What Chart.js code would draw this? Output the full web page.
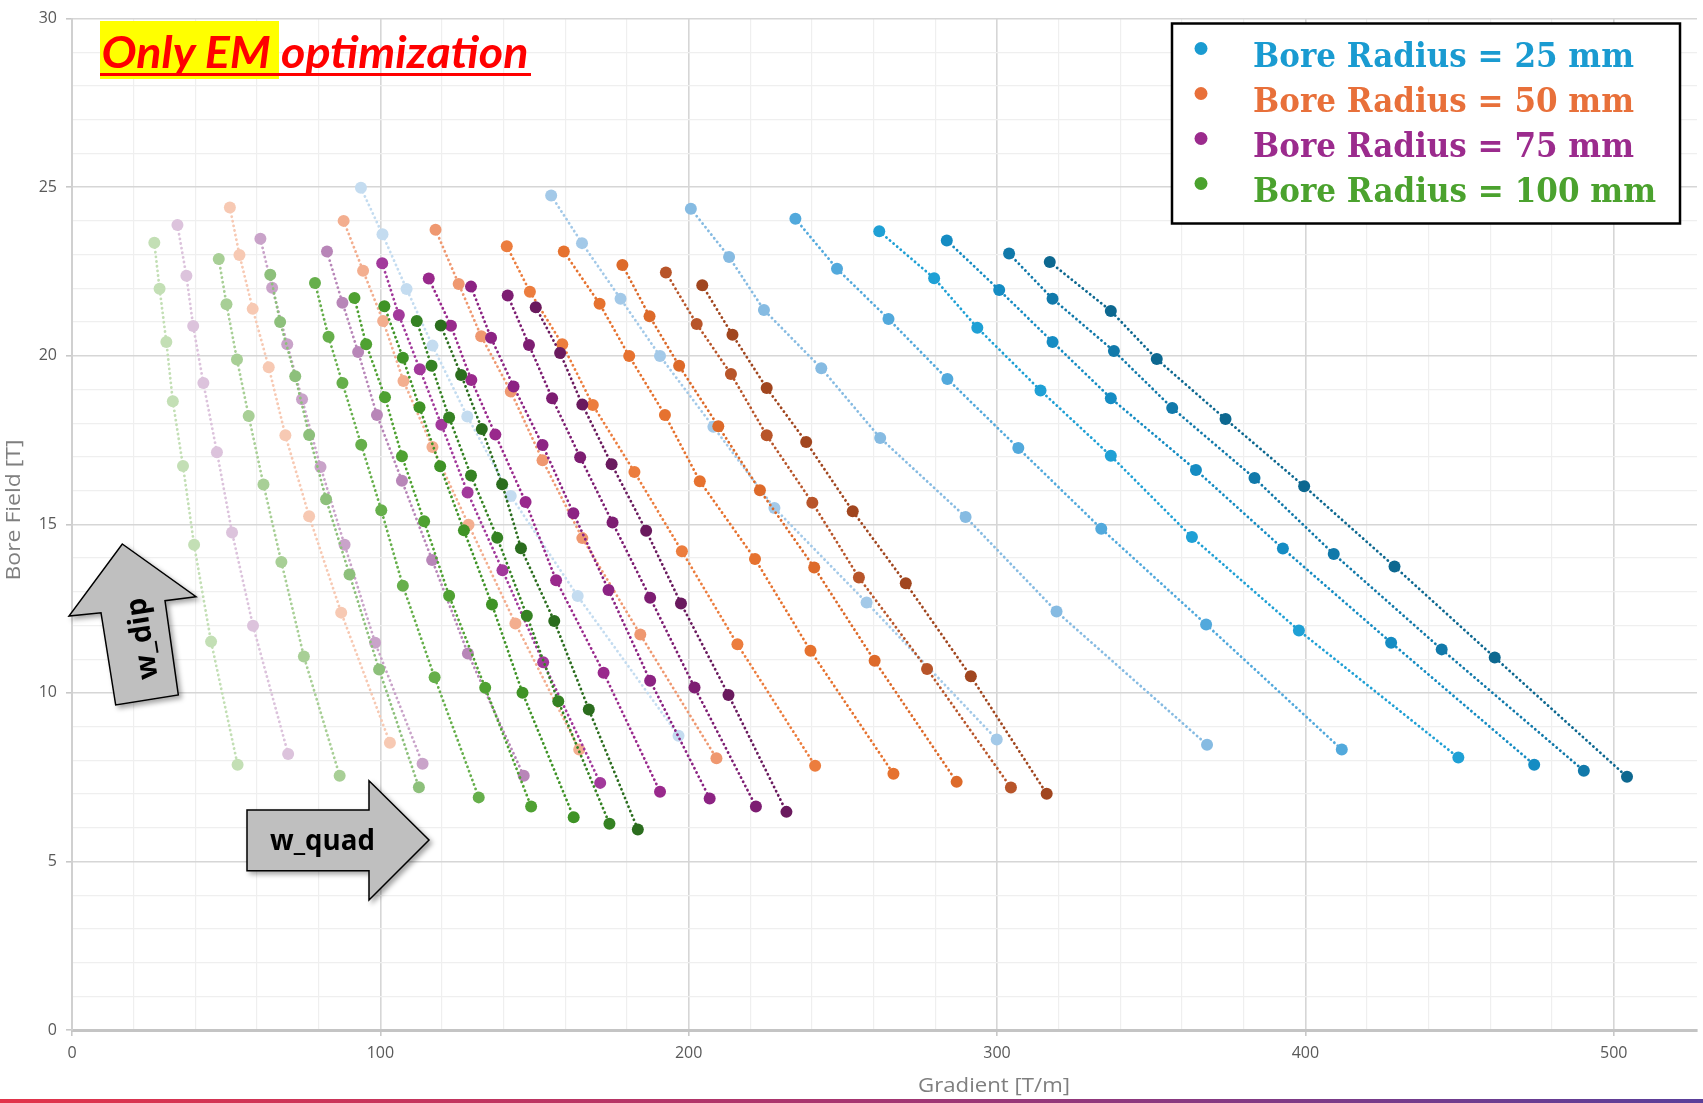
<!DOCTYPE html>
<html>
<head>
<meta charset="utf-8">
<script src="https://cdn.jsdelivr.net/npm/chart.js@4.4.0/dist/chart.umd.min.js"></script>
<style>
  html, body { margin: 0; padding: 0; background: #fff; }
  #wrap { position: relative; width: 1703px; height: 1103px; overflow: hidden; }
  #chart { position: absolute; left: 0; top: 0; }
  #overlay { position: absolute; left: 0; top: 0; pointer-events: none; }
</style>
</head>
<body>
<div id="wrap">
<canvas id="chart" width="1703" height="1103"></canvas>
<svg id="overlay" width="1703" height="1103" xmlns="http://www.w3.org/2000/svg">
  <defs>
    <filter id="shadow" x="-20%" y="-20%" width="150%" height="150%">
      <feDropShadow dx="3" dy="3" stdDeviation="2.5" flood-color="#000" flood-opacity="0.35"/>
    </filter>
    <linearGradient id="edge" x1="0" x2="1" y1="0" y2="0">
      <stop offset="0" stop-color="#e2344a"/>
      <stop offset="0.5" stop-color="#a63570"/>
      <stop offset="1" stop-color="#5a3f9a"/>
    </linearGradient>
  </defs>

  <!-- title -->
  <rect x="100" y="21" width="179" height="58" fill="#ffff00"/>
  <text x="101.5" y="67.5" font-family="Lato" font-weight="bold" font-style="italic" font-size="43"
        fill="#ff0000" textLength="427" lengthAdjust="spacingAndGlyphs">Only EM optimization</text>
  <line x1="100" y1="74.5" x2="531" y2="74.5" stroke="#ff0000" stroke-width="3"/>

  <!-- legend -->
  <g id="legend"></g>

  <!-- arrows -->
  <polygon points="122.3,544 196,596.7 165,600.7 178.3,695 115.7,705 101,612.7 69,616"
           fill="#bfbfbf" stroke="#000" stroke-width="1.5" filter="url(#shadow)"/>
  <text transform="translate(140,639) rotate(-99)" text-anchor="middle" dominant-baseline="central"
        font-family="Open Sans" font-weight="bold" font-size="29" fill="#000"
        textLength="82" lengthAdjust="spacingAndGlyphs">w_dip</text>
  <polygon points="247,810 369,810 369,780.7 429,840 369,900 369,870.7 247,870.7"
           fill="#bfbfbf" stroke="#000" stroke-width="1.5" filter="url(#shadow)"/>
  <text x="270" y="850" font-family="Open Sans" font-weight="bold" font-size="29" fill="#000"
        textLength="105" lengthAdjust="spacingAndGlyphs">w_quad</text>

  <!-- axis titles -->
  <text x="994" y="1092" text-anchor="middle" font-family="Open Sans" font-size="20" fill="#7f7f7f"
        textLength="152" lengthAdjust="spacingAndGlyphs">Gradient [T/m]</text>
  <text transform="translate(20,510) rotate(-90)" text-anchor="middle" font-family="Open Sans" font-size="20"
        fill="#7f7f7f" textLength="141" lengthAdjust="spacingAndGlyphs">Bore Field [T]</text>

  <rect x="0" y="1099" width="1703" height="4" fill="url(#edge)"/>
</svg>
</div>
<script>
// rows = operating points with similar bore field, columns = individual curves (light -> dark)

// Bore radius 25 mm
const blueGradient = [
  [93.7, 155.4, 200.7, 234.6, 261.8, 283.7, 303.9, 317.1],
  [100.7, 165.4, 213.1, 248.1, 279.6, 300.7, 318.0, 336.9],
  [108.5, 177.9, 224.4, 264.8, 293.6, 318.0, 337.9, 351.8],
  [116.9, 190.7, 243.0, 283.9, 314.1, 336.9, 356.8, 374.1],
  [128.2, 208.0, 262.1, 306.9, 336.9, 364.5, 383.5, 399.6],
  [142.3, 227.8, 289.8, 333.8, 363.2, 392.7, 409.2, 428.9],
  [164.0, 257.7, 319.3, 367.8, 397.9, 427.8, 444.2, 461.4],
  [196.7, 299.9, 368.1, 411.8, 449.6, 474.2, 490.3, 504.3]
];
const blueField = [
  [24.98, 24.75, 24.36, 24.06, 23.69, 23.42, 23.03, 22.78],
  [23.60, 23.34, 22.93, 22.58, 22.30, 21.95, 21.69, 21.33],
  [21.98, 21.69, 21.36, 21.09, 20.83, 20.41, 20.14, 19.90],
  [20.30, 19.99, 19.63, 19.31, 18.97, 18.74, 18.45, 18.12],
  [18.20, 17.89, 17.56, 17.26, 17.03, 16.61, 16.37, 16.13],
  [15.84, 15.48, 15.22, 14.87, 14.62, 14.28, 14.12, 13.75],
  [12.87, 12.68, 12.41, 12.03, 11.85, 11.49, 11.29, 11.05],
  [8.73, 8.62, 8.46, 8.32, 8.08, 7.87, 7.69, 7.51]
];

// Bore radius 50 mm
const orangeGradient = [
  [51.2, 88.1, 117.9, 141.0, 159.5, 178.5, 192.6, 204.4],
  [54.3, 94.4, 125.4, 148.5, 171.1, 187.3, 202.6, 214.2],
  [58.6, 100.9, 132.7, 159.0, 180.7, 196.9, 213.7, 225.3],
  [63.8, 107.5, 142.3, 168.9, 192.3, 209.6, 225.3, 238.1],
  [69.2, 116.9, 152.6, 182.4, 203.6, 223.1, 240.1, 253.2],
  [76.9, 128.6, 165.5, 197.8, 221.5, 240.7, 255.2, 270.4],
  [87.3, 143.8, 184.3, 215.8, 239.5, 260.3, 277.3, 291.5],
  [103.1, 164.5, 209.0, 241.0, 266.4, 286.9, 304.5, 316.1]
];
const orangeField = [
  [24.40, 24.00, 23.74, 23.25, 23.09, 22.69, 22.47, 22.09],
  [22.99, 22.52, 22.13, 21.90, 21.54, 21.17, 20.94, 20.62],
  [21.39, 21.03, 20.58, 20.34, 19.99, 19.70, 19.46, 19.04],
  [19.66, 19.25, 18.94, 18.54, 18.24, 17.91, 17.64, 17.44],
  [17.64, 17.29, 16.90, 16.55, 16.28, 16.01, 15.64, 15.39],
  [15.24, 14.99, 14.59, 14.20, 13.97, 13.72, 13.42, 13.25],
  [12.38, 12.06, 11.73, 11.44, 11.25, 10.95, 10.71, 10.49],
  [8.52, 8.32, 8.06, 7.84, 7.60, 7.36, 7.19, 7.01]
];

// Bore radius 75 mm
const purpleGradient = [
  [34.2, 61.1, 82.7, 100.6, 115.7, 129.4, 141.3, 150.4],
  [37.1, 64.9, 87.7, 106.0, 122.9, 135.9, 148.2, 158.3],
  [39.3, 69.8, 92.8, 112.8, 129.5, 143.2, 155.7, 165.5],
  [42.6, 74.6, 98.9, 119.8, 137.3, 152.6, 164.8, 175.0],
  [47.0, 80.6, 107.0, 128.3, 147.1, 162.6, 175.3, 186.2],
  [51.9, 88.4, 116.8, 139.6, 157.0, 174.0, 187.5, 197.5],
  [58.7, 98.3, 128.4, 152.8, 172.4, 187.5, 201.9, 212.9],
  [70.1, 113.7, 146.5, 171.3, 190.7, 206.8, 221.8, 231.7]
];
const purpleField = [
  [23.88, 23.47, 23.09, 22.74, 22.29, 22.05, 21.79, 21.44],
  [22.37, 22.02, 21.57, 21.21, 20.89, 20.53, 20.32, 20.08],
  [20.88, 20.34, 20.11, 19.60, 19.28, 19.09, 18.74, 18.55],
  [19.19, 18.71, 18.24, 17.95, 17.66, 17.35, 16.99, 16.78],
  [17.14, 16.70, 16.29, 15.94, 15.66, 15.33, 15.05, 14.81],
  [14.76, 14.39, 13.94, 13.64, 13.34, 13.05, 12.82, 12.65],
  [11.99, 11.49, 11.17, 10.91, 10.60, 10.36, 10.16, 9.94],
  [8.19, 7.90, 7.54, 7.33, 7.07, 6.87, 6.63, 6.47]
];

// Bore radius 100 mm
const greenGradient = [
  [26.7, 47.6, 64.3, 78.8, 91.6, 101.3, 111.8, 119.6],
  [28.4, 50.1, 67.5, 83.2, 95.4, 107.3, 116.6, 126.2],
  [30.6, 53.5, 72.4, 87.7, 101.5, 112.7, 122.3, 132.9],
  [32.7, 57.3, 76.9, 93.8, 107.0, 119.4, 129.4, 139.5],
  [36.0, 62.1, 82.4, 100.3, 114.2, 127.1, 137.9, 145.6],
  [39.6, 67.9, 90.0, 107.3, 122.3, 136.2, 147.5, 156.4],
  [45.1, 75.2, 99.6, 117.6, 134.0, 146.1, 157.7, 167.6],
  [53.7, 86.8, 112.5, 131.9, 148.9, 162.7, 174.3, 183.5]
];
const greenField = [
  [23.35, 22.87, 22.40, 22.16, 21.71, 21.47, 21.03, 20.90],
  [21.99, 21.53, 21.00, 20.56, 20.34, 19.94, 19.70, 19.43],
  [20.41, 19.89, 19.39, 19.19, 18.77, 18.47, 18.17, 17.83],
  [18.65, 18.21, 17.65, 17.36, 17.02, 16.72, 16.45, 16.19],
  [16.73, 16.18, 15.74, 15.42, 15.09, 14.82, 14.60, 14.29],
  [14.39, 13.88, 13.51, 13.18, 12.88, 12.62, 12.29, 12.13],
  [11.52, 11.08, 10.69, 10.46, 10.15, 10.00, 9.75, 9.51],
  [7.87, 7.54, 7.20, 6.90, 6.63, 6.31, 6.12, 5.95]
];

const blueShades = ['#c4dcf0', '#a3c9e8', '#86bbe2', '#52a9dc', '#1fa0d5', '#158cc3', '#1179aa', '#0d6890'];
const orangeShades = ['#f7c9b3', '#f3ae8f', '#ef9870', '#ec7d3e', '#e6722f', '#dd6a2a', '#b8552a', '#a1461f'];
const purpleShades = ['#dcc3dc', '#c9a3c9', '#b886b8', '#a2399b', '#99298c', '#8c2383', '#7d1d72', '#6a1a5e'];
const greenShades = ['#c3dfb5', '#a8cf96', '#8dc07b', '#66af4b', '#4fa132', '#3f9326', '#358223', '#2b6d1e'];

const legendLabels = ['Bore Radius = 25 mm', 'Bore Radius = 50 mm', 'Bore Radius = 75 mm', 'Bore Radius = 100 mm'];
const legendColors = ['#1a9bd1', '#e8703a', '#9b2b8d', '#4ba22e'];

let order = 1000;
function buildGroup(xRows, yRows, shades, name) {
  return shades.map((c, j) => ({
    label: name + ' #' + (j + 1),
    data: xRows.map((row, k) => ({ x: row[j], y: yRows[k][j] })),
    showLine: true,
    borderColor: c,
    backgroundColor: c,
    borderWidth: 2.8,
    borderDash: [0.1, 4.6],
    borderCapStyle: 'round',
    pointRadius: 6,
    pointBorderWidth: 0,
    pointBackgroundColor: c,
    tension: 0,
    order: order--
  }));
}

const datasets = [
  ...buildGroup(blueGradient, blueField, blueShades, legendLabels[0]),
  ...buildGroup(orangeGradient, orangeField, orangeShades, legendLabels[1]),
  ...buildGroup(purpleGradient, purpleField, purpleShades, legendLabels[2]),
  ...buildGroup(greenGradient, greenField, greenShades, legendLabels[3])
];

const major = (ctx, step) => ctx.tick && Math.abs(ctx.tick.value % step) < 1e-6;

new Chart(document.getElementById('chart'), {
  type: 'scatter',
  data: { datasets },
  options: {
    responsive: false,
    animation: false,
    devicePixelRatio: 1,
    events: [],
    layout: { padding: { top: 15, left: 0, right: 0, bottom: 0 } },
    plugins: { legend: { display: false }, tooltip: { enabled: false } },
    scales: {
      x: {
        type: 'linear',
        min: 0,
        max: 527,
        afterBuildTicks: s => { s.ticks = s.ticks.filter(t => t.value % 20 === 0); },
        afterFit: s => { s.height = 73; },
        grid: {
          color: c => major(c, 100) ? '#d6d6d6' : '#efefef',
          lineWidth: c => major(c, 100) ? 1.6 : 1.2,
          tickLength: 6,
          tickColor: c => major(c, 100) ? '#c8c8c8' : 'rgba(0,0,0,0)'
        },
        border: { color: '#c4c4c4', width: 3 },
        ticks: {
          stepSize: 20,
          autoSkip: false,
          maxRotation: 0,
          padding: 8,
          color: '#595959',
          font: { family: 'Open Sans', size: 16 },
          callback: v => v % 100 === 0 ? v : ''
        }
      },
      y: {
        min: 0,
        max: 30,
        afterFit: s => { s.width = 72; },
        grid: {
          color: c => major(c, 5) ? '#d6d6d6' : '#efefef',
          lineWidth: c => major(c, 5) ? 1.6 : 1.2,
          tickLength: 6,
          tickColor: c => major(c, 5) ? '#c8c8c8' : 'rgba(0,0,0,0)'
        },
        border: { color: '#d0d0d0', width: 2 },
        ticks: {
          stepSize: 1,
          autoSkip: false,
          padding: 9,
          color: '#595959',
          font: { family: 'Open Sans', size: 16 },
          callback: v => v % 5 === 0 ? v : ''
        }
      }
    }
  }
});

// legend box (drawn as svg text over the chart)
const ns = 'http://www.w3.org/2000/svg';
const lg = document.getElementById('legend');
const box = document.createElementNS(ns, 'rect');
box.setAttribute('x', 1172); box.setAttribute('y', 23.5);
box.setAttribute('width', 508); box.setAttribute('height', 200);
box.setAttribute('fill', '#fff'); box.setAttribute('stroke', '#000'); box.setAttribute('stroke-width', 2.5);
lg.appendChild(box);
const legendWidths = [381, 381, 381, 403];
legendLabels.forEach((txt, i) => {
  const dot = document.createElementNS(ns, 'circle');
  dot.setAttribute('cx', 1201); dot.setAttribute('cy', 48.5 + i * 45);
  dot.setAttribute('r', 6.5); dot.setAttribute('fill', legendColors[i]);
  lg.appendChild(dot);
  const t = document.createElementNS(ns, 'text');
  t.setAttribute('x', 1253); t.setAttribute('y', 67.3 + i * 44.8);
  t.setAttribute('font-family', 'DejaVu Serif');
  t.setAttribute('font-weight', 'bold');
  t.setAttribute('font-size', 33);
  t.setAttribute('fill', legendColors[i]);
  t.setAttribute('textLength', legendWidths[i]);
  t.setAttribute('lengthAdjust', 'spacingAndGlyphs');
  t.textContent = txt;
  lg.appendChild(t);
});
</script>
</body>
</html>
